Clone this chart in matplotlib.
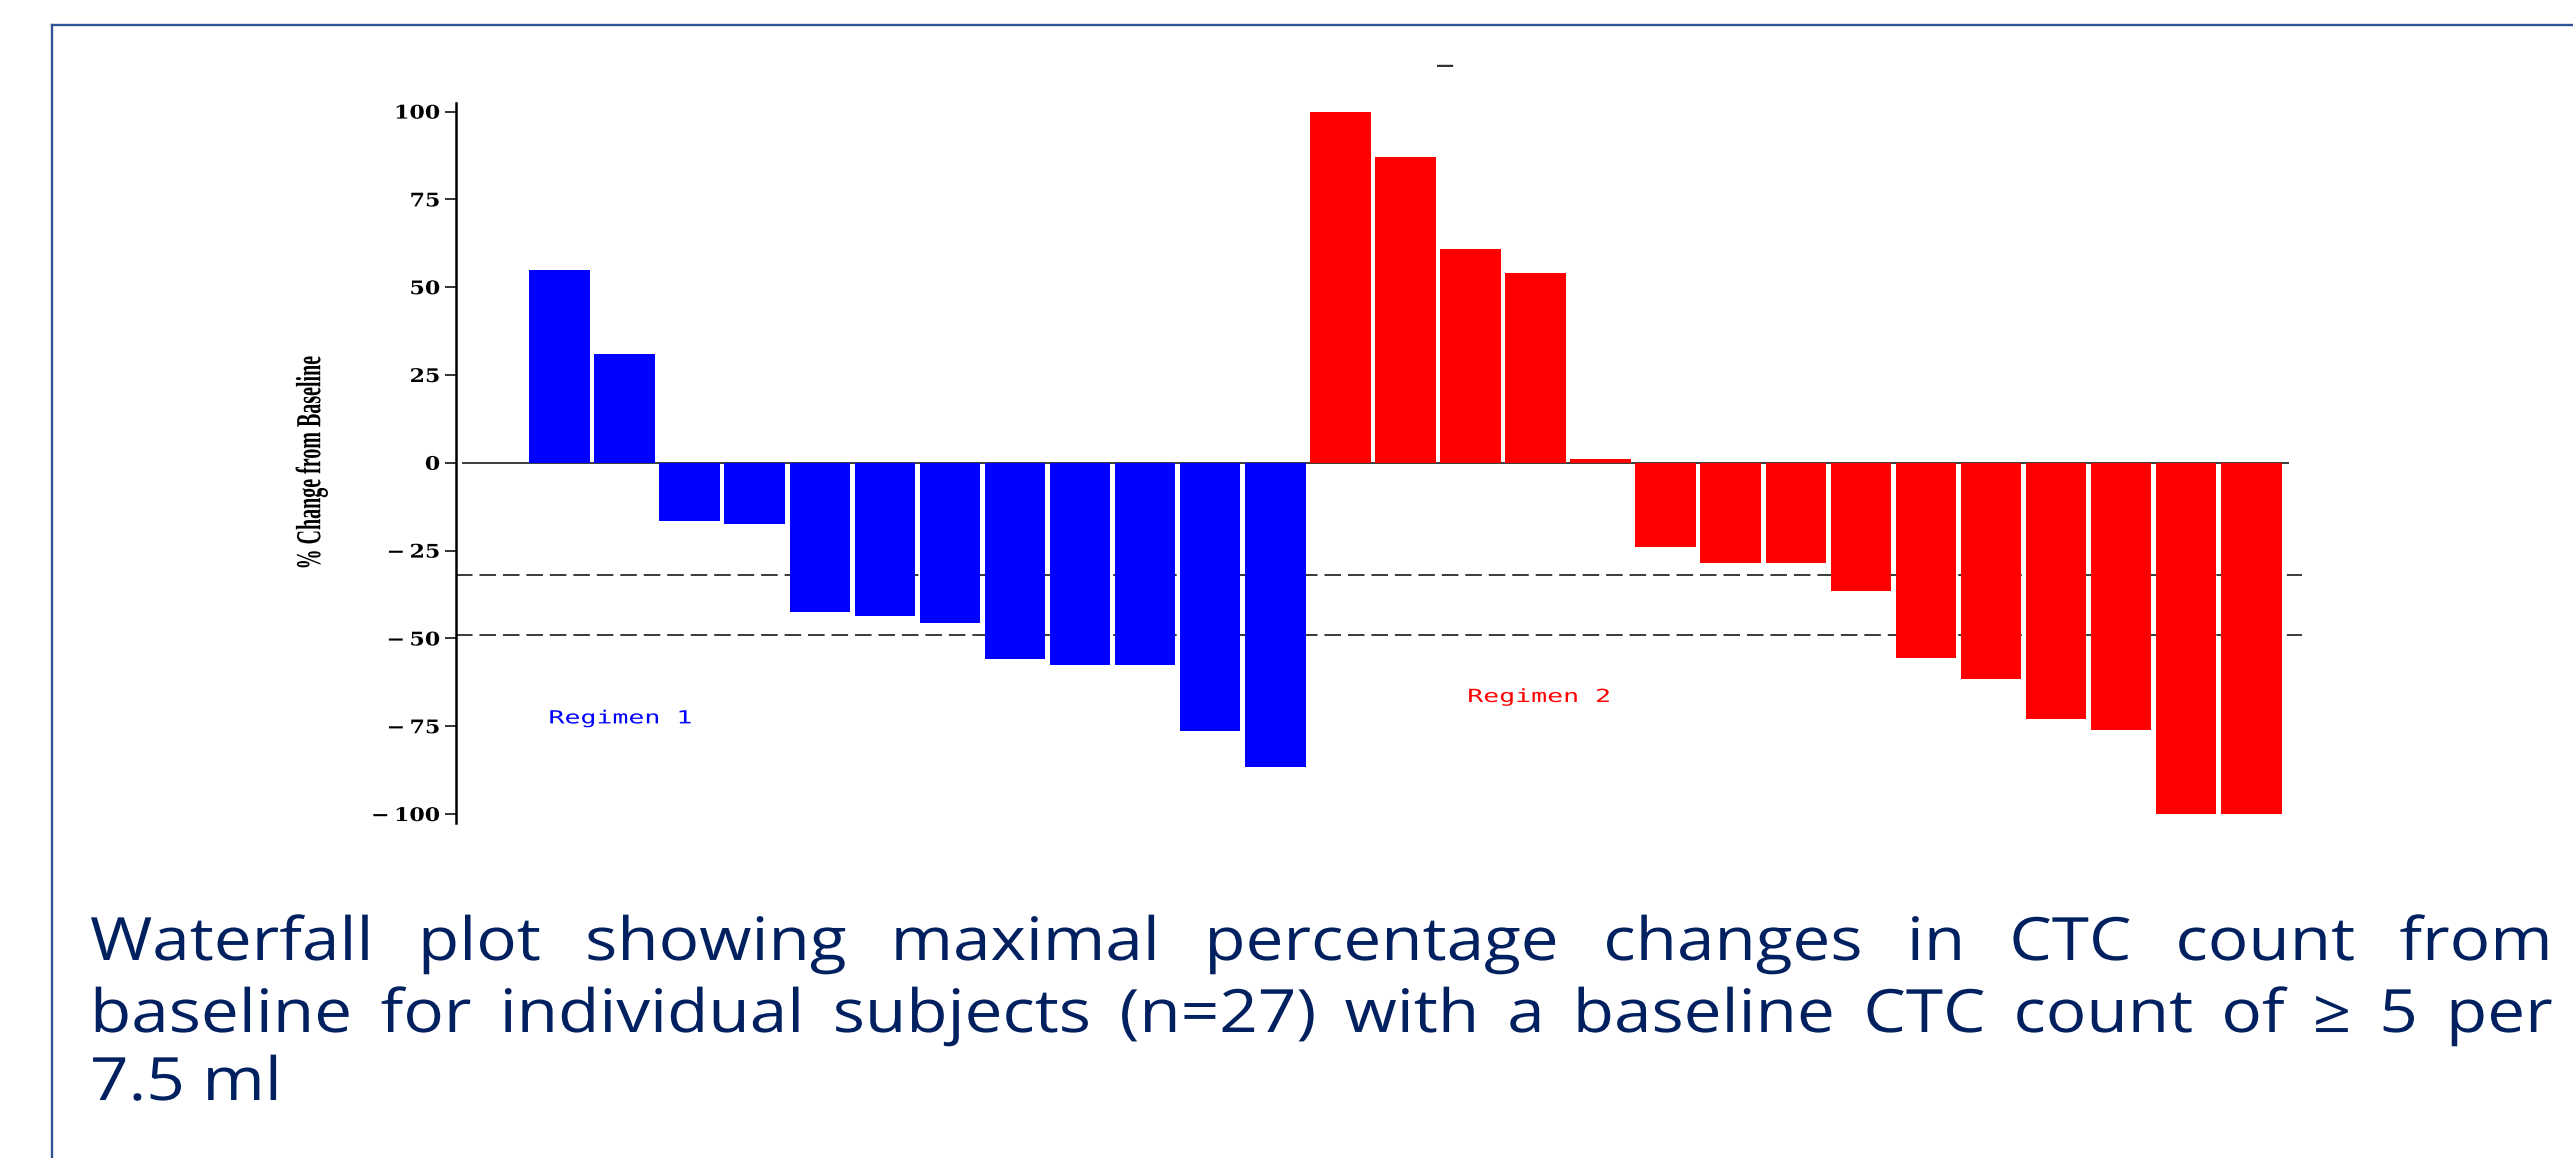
import matplotlib
matplotlib.use('Agg')
import matplotlib.pyplot as plt
from matplotlib.patheffects import AbstractPathEffect
from matplotlib.transforms import Affine2D
from matplotlib.lines import Line2D
import numpy as np

# ---------------- data ----------------
regimen1_values = [55, 31, -16.5, -17.5, -42.5, -43.5, -45.5, -56, -57.5, -57.5, -76.5, -86.5]
regimen2_values = [100, 87, 61, 54, 1, -24, -28.5, -28.5, -36.5, -55.5, -61.5, -73, -76, -100, -100]
reference_lines = [-32, -49]
y_ticks = [-100, -75, -50, -25, 0, 25, 50, 75, 100]
y_tick_labels = ['\u2212\u2009100', '\u2212\u200975', '\u2212\u200950', '\u2212\u200925',
                 '0', '25', '50', '75', '100']
group_labels = ['Regimen 1', 'Regimen 2']
y_label = '% Change from Baseline'
title_text = '\u2014'
caption_lines = [
    'Waterfall plot showing maximal percentage changes in CTC count from',
    'baseline for individual subjects (n=27) with a baseline CTC count of \u2265 5 per',
    '7.5 ml',
]

W, H, DPI = 2573, 1158, 100
plt.rcParams['lines.scale_dashes'] = False


class Stretch(AbstractPathEffect):
    """Scale the drawn glyph path in display space around an anchor."""
    def __init__(self, sx=1.0, sy=1.0, anchor='center'):
        super().__init__()
        self.sx, self.sy, self.anchor = sx, sy, anchor

    def draw_path(self, renderer, gc, tpath, affine, rgbFace=None):
        ext = tpath.get_extents(affine)
        if self.anchor == 'right':
            ax0 = ext.x1
        elif self.anchor == 'left':
            ax0 = ext.x0
        elif self.anchor == 'origin':
            ax0 = affine.transform((0, 0))[0]
        else:
            ax0 = 0.5 * (ext.x0 + ext.x1)
        ay0 = 0.5 * (ext.y0 + ext.y1)
        t = affine + Affine2D().translate(-ax0, -ay0).scale(self.sx, self.sy).translate(ax0, ay0)
        renderer.draw_path(gc, tpath, t, rgbFace)


def fx(px):
    return px / W


def fy(py):
    return 1 - py / H


fig = plt.figure(figsize=(W / DPI, H / DPI), dpi=DPI)
fig.patch.set_facecolor('white')

# frame lines (decorative border of the original figure panel)
frame_color = '#2F5496'
fig.add_artist(Line2D([fx(52), 1.0], [fy(25), fy(25)], transform=fig.transFigure,
                      color=frame_color, lw=1.7))
fig.add_artist(Line2D([fx(52), fx(52)], [fy(25), 0.0], transform=fig.transFigure,
                      color=frame_color, lw=1.7))

ax = fig.add_axes([fx(456), fy(822.8), fx(2302) - fx(456), 720 / H])

n1, n2 = len(regimen1_values), len(regimen2_values)
x1 = np.arange(1, n1 + 1)
x2 = np.arange(n1 + 1, n1 + n2 + 1)

ax.bar(x1, regimen1_values, width=0.93, color='#0000FF', linewidth=0, zorder=3)
ax.bar(x2, regimen2_values, width=0.93, color='#FF0000', linewidth=0, zorder=3)

ax.axhline(0, xmin=0.004, xmax=0.9925, color='#3a3a3a', lw=1.4, zorder=1)
for v in reference_lines:
    ax.axhline(v, color='#3a3a3a', lw=1.4, ls=(0, (11.9, 5.0)), zorder=1)

ax.set_xlim(-0.591, 27.78)
ax.set_ylim(-102.5, 102.5)
for s in ['top', 'right', 'bottom']:
    ax.spines[s].set_visible(False)
ax.spines['left'].set_linewidth(1.8)
ax.spines['left'].set_color('black')
ax.set_xticks([])
ax.set_yticks(y_ticks, y_tick_labels)
ax.tick_params(axis='y', direction='out', length=7.9, width=1.4, color='#333333',
               pad=3.6, labelsize=13.5)
for lab in ax.get_yticklabels():
    lab.set_fontfamily('DejaVu Serif')
    lab.set_fontweight('bold')
    lab.set_path_effects([Stretch(1.18, 1.0, 'right')])
ax.patch.set_alpha(0)

# group labels
ax.text(0.84, -74.2, group_labels[0], color='#0000FF', family='DejaVu Sans Mono',
        fontsize=13, ha='left', va='baseline',
        path_effects=[Stretch(1.47, 1.0, 'left')])
ax.text(14.96, -68.1, group_labels[1], color='#FF0000', family='DejaVu Sans Mono',
        fontsize=13, ha='left', va='baseline',
        path_effects=[Stretch(1.47, 1.0, 'left')])

# y label
fig.text(fx(311.5), fy(462.8), y_label, rotation=90, ha='center', va='center',
         family='Liberation Serif', weight='bold', fontsize=18.7, color='black',
         path_effects=[Stretch(1.35, 0.77)])

# tiny title dash
fig.text(fx(1445), fy(65.7), title_text, ha='center', va='center', fontsize=13,
         color='#333333', weight='bold')

# ---------------- caption (justified) ----------------
cap_color = '#002060'
cap_family = ['Open Sans', 'DejaVu Sans']
cap_size = 43
baselines = [960, 1032, 1100]
x_left, x_right = 90, 2553
avail = x_right - x_left

fig.canvas.draw()
r = fig.canvas.get_renderer()


def measure(s, size):
    t = fig.text(0, 0.5, s, fontsize=size, family=cap_family)
    w = t.get_window_extent(r).width
    t.remove()
    return w


# horizontal widening so that line 2 has the tight word gaps of the original
words2 = caption_lines[1].split(' ')
raw2 = sum(measure(w_, cap_size) for w_ in words2)
sx = (avail - (len(words2) - 1) * 28.0) / raw2
sx = max(0.9, min(1.2, sx))

for i, line in enumerate(caption_lines):
    words = line.split(' ')
    if i < len(caption_lines) - 1:
        widths = [measure(w_, cap_size) * sx for w_ in words]
        gap = (avail - sum(widths)) / (len(words) - 1)
        x = x_left
        for w_, wd in zip(words, widths):
            fig.text(fx(x), fy(baselines[i]), w_, fontsize=cap_size, family=cap_family,
                     color=cap_color, ha='left', va='baseline',
                     path_effects=[Stretch(sx, 1.0, 'origin')])
            x += wd + gap
    else:
        fig.text(fx(x_left), fy(baselines[i]), line, fontsize=cap_size, family=cap_family,
                 color=cap_color, ha='left', va='baseline',
                 path_effects=[Stretch(sx, 1.0, 'origin')])

fig.savefig('out.png', dpi=DPI, facecolor='white')
